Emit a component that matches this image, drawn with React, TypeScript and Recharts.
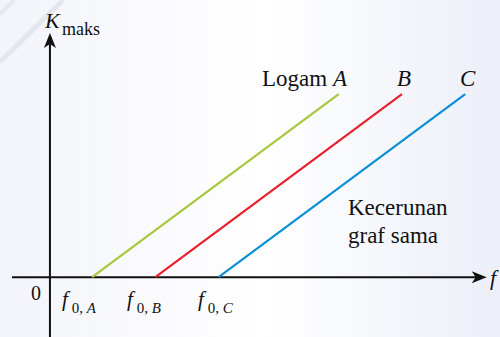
import React from "react";
import { LineChart, Line, XAxis, YAxis, ReferenceLine, ReferenceDot } from "recharts";

// Threshold frequencies f0 for the three metals (arbitrary units)
const metals = ["A", "B", "C"];
const thresholds = [1.0, 2.5, 4.0];
const endFrequencies = [6.85, 8.35, 9.85];
const endKmax = [7.5, 7.5, 7.5];
const colors = ["#a6c83c", "#e8212b", "#0b8fd7"];

const xDomain: [number, number] = [-0.9, 10.36];
const yDomain: [number, number] = [-2.45, 10];

const seriesData = metals.map((m, i) => [
  { f: thresholds[i], k: 0 },
  { f: endFrequencies[i], k: endKmax[i] },
]);

const FONT = "Liberation Serif";
const INK = "#111";

const ArrowRight = (p: any) => (
  <path
    d={`M ${p.cx} ${p.cy} L ${p.cx - 15} ${p.cy - 6} L ${p.cx - 11} ${p.cy} L ${p.cx - 15} ${p.cy + 6} Z`}
    fill={INK}
  />
);
const ArrowUp = (p: any) => (
  <path
    d={`M ${p.cx} ${p.cy} L ${p.cx - 6} ${p.cy + 15} L ${p.cx} ${p.cy + 11} L ${p.cx + 6} ${p.cy + 15} Z`}
    fill={INK}
  />
);

const FLabel = ({ x, sub }: { x: number; sub: string }) => (
  <text x={x} y={306} fontFamily={FONT} fontSize={21} fill={INK}>
    <tspan fontStyle="italic">f</tspan>
    <tspan fontSize={15} dx={4} dy={7}>0, </tspan>
    <tspan fontSize={15} fontStyle="italic">{sub}</tspan>
  </text>
);

const Overlay = () => (
  <svg
    width={500}
    height={337}
    style={{ position: "absolute", left: 0, top: 0, pointerEvents: "none", fontFamily: FONT }}
  >
    <g fontFamily={FONT} fill={INK}>
      <text x={45} y={28} fontSize={22} fontStyle="italic">K</text>
      <text x={62} y={35} fontSize={18}>maks</text>
      <text x={31} y={300} fontSize={20}>0</text>
      <FLabel x={62} sub="A" />
      <FLabel x={127} sub="B" />
      <FLabel x={198} sub="C" />
      <text x={262} y={86} fontSize={23}>
        Logam <tspan fontStyle="italic">A</tspan>
      </text>
      <text x={397} y={86} fontSize={23} fontStyle="italic">B</text>
      <text x={460} y={86} fontSize={23} fontStyle="italic">C</text>
      <text x={348} y={215} fontSize={23}>Kecerunan</text>
      <text x={348} y={243} fontSize={23}>graf sama</text>
      <text x={490} y={285} fontSize={22} fontStyle="italic">f</text>
    </g>
  </svg>
);

const Backdrop = () => (
  <svg width={500} height={337} style={{ position: "absolute", left: 0, top: 0 }}>
    <line x1={0} y1={62} x2={63} y2={0} stroke="#e4e6ee" strokeWidth={5} />
    <line x1={0} y1={14} x2={14} y2={0} stroke="#e6e8ef" strokeWidth={4} />
  </svg>
);

export default function App() {
  return (
    <div
      style={{
        position: "absolute",
        left: 0,
        top: 0,
        width: 500,
        height: 337,
        overflow: "hidden",
        fontFamily: FONT,
        background: "linear-gradient(to right, #f3f4fa 0%, #ffffff 53%, #eceff8 100%)",
      }}
    >
      <Backdrop />
      <div style={{ position: "absolute", left: 0, top: 0 }}>
        <LineChart
          width={500}
          height={337}
          margin={{ top: 33, right: 13.3, bottom: 0, left: 12 }}
        >
          <XAxis type="number" dataKey="f" domain={xDomain} scale="linear" allowDataOverflow hide />
          <YAxis type="number" dataKey="k" domain={yDomain} scale="linear" allowDataOverflow hide />
          <ReferenceLine
            segment={[{ x: xDomain[0], y: 0 }, { x: xDomain[1] - 0.2, y: 0 }]}
            stroke={INK}
            strokeWidth={2}
          />
          <ReferenceLine
            segment={[{ x: 0, y: yDomain[0] }, { x: 0, y: yDomain[1] - 0.4 }]}
            stroke={INK}
            strokeWidth={2}
          />
          {seriesData.map((d, i) => (
            <Line
              key={metals[i]}
              data={d}
              dataKey="k"
              type="linear"
              stroke={colors[i]}
              strokeWidth={2.2}
              dot={false}
              activeDot={false}
              isAnimationActive={false}
            />
          ))}
          <ReferenceDot x={xDomain[1]} y={0} r={0} shape={ArrowRight} />
          <ReferenceDot x={0} y={yDomain[1]} r={0} shape={ArrowUp} />
        </LineChart>
      </div>
      <Overlay />
    </div>
  );
}
